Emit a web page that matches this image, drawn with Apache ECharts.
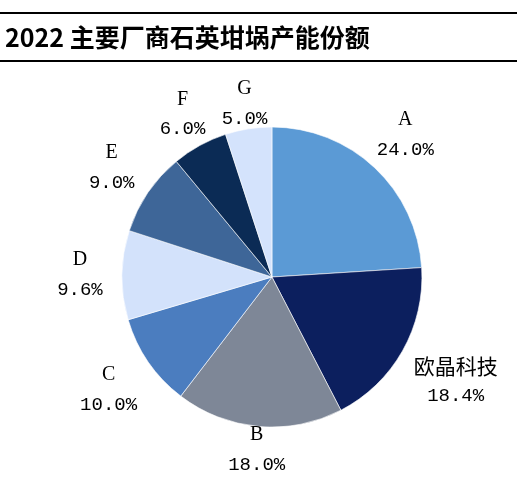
<!DOCTYPE html>
<html><head><meta charset="utf-8">
<script src="https://cdn.jsdelivr.net/npm/echarts@6/dist/echarts.min.js"></script>
<style>html,body{margin:0;padding:0;background:#fff}#c{width:517px;height:486px}</style>
</head><body><div id="c"></div>
<script>
const titleText = '2022 主要厂商石英坩埚产能份额';
const categories = ['A', '欧晶科技', 'B', 'C', 'D', 'E', 'F', 'G'];
const shares = [24.0, 18.4, 18.0, 10.0, 9.6, 9.0, 6.0, 5.0];
const colors = ['#5b9ad5', '#0c1f5e', '#7e8797', '#4b7dbf', '#d3e2fb', '#3e6698', '#0b2b55', '#d4e3fc'];

const chart = echarts.init(document.getElementById('c'), null, {renderer: 'canvas'});
const W = 517, H = 486;
const cx = 0.526 * W, cy = 0.57 * H, R = 150;
const total = shares.reduce((a, b) => a + b, 0);
const midAngles = [];
let acc = 0;
shares.forEach(v => { midAngles.push((acc + v / 2) / total * 2 * Math.PI); acc += v; });

chart.setOption({
  animation: false,
  graphic: [
    {type: 'line', shape: {x1: 0, y1: 13, x2: W, y2: 13}, style: {stroke: '#000', lineWidth: 2}},
    {type: 'line', shape: {x1: 0, y1: 61, x2: W, y2: 61}, style: {stroke: '#000', lineWidth: 2}},
    {type: 'text', left: 5, top: 25, style: {text: titleText, font: 'bold 25px "Noto Sans CJK SC", "Noto Sans", sans-serif', fill: '#000'}}
  ],
  series: [{
    type: 'pie',
    center: [cx, cy],
    radius: [0, R],
    startAngle: 90,
    clockwise: true,
    itemStyle: {borderColor: '#fff', borderWidth: 0.6},
    label: {
      show: true,
      position: 'outside',
      overflow: 'none',
      formatter: p => {
        const isCJK = /[^\x00-\x7f]/.test(p.name);
        return (isCJK ? '{c|' + p.name + '}' : '{n|' + p.name + '}') + '\n{v|' + p.value.toFixed(1) + '%}';
      },
      rich: {
        n: {fontFamily: '"Liberation Serif", serif', fontSize: 20, lineHeight: 30, color: '#000', align: 'center'},
        c: {fontFamily: '"Noto Sans CJK SC", serif', fontSize: 21, lineHeight: 30, color: '#000', align: 'center'},
        v: {fontFamily: '"Liberation Mono", monospace', fontSize: 19, lineHeight: 30, color: '#000', align: 'center'}
      }
    },
    labelLine: {show: false},
    labelLayout: params => {
      const a = midAngles[params.dataIndex];
      const ux = Math.sin(a), uy = -Math.cos(a);
      const w = params.labelRect.width, h = params.labelRect.height;
      const d = R + 5 + 14 * Math.abs(ux) + Math.abs(ux) * w / 2 + Math.abs(uy) * (h - 20) / 2;
      return {x: cx + ux * d, y: cy + uy * d, align: 'center', verticalAlign: 'middle'};
    },
    data: categories.map((n, i) => ({name: n, value: shares[i], itemStyle: {color: colors[i]}}))
  }]
});
</script></body></html>
